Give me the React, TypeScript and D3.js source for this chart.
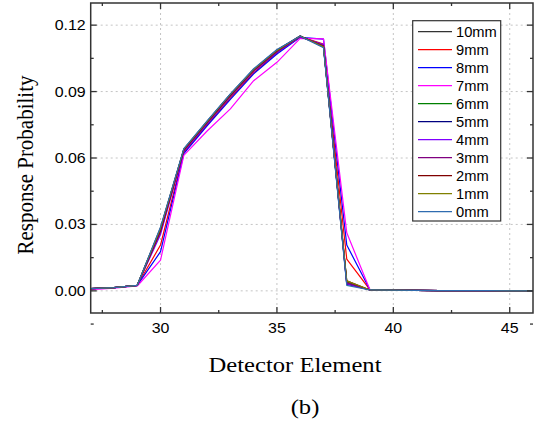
import React from 'react';
import * as d3 from 'd3';

const detectorElements = [27, 28, 29, 30, 31, 32, 33, 34, 35, 36, 37, 38, 39, 40, 41, 42, 43, 44, 45, 46];

const seriesNames = ['10mm', '9mm', '8mm', '7mm', '6mm', '5mm', '4mm', '3mm', '2mm', '1mm', '0mm'];
const seriesColors = ['#333333', '#ff0000', '#0000ff', '#ff00ff', '#008000', '#000080', '#8000ff', '#800080', '#800000', '#808000', '#2f6cb0'];

const tail = [0.0004, 0.0003, 0.0002, 0.0001, 0.0001, 0.0001, 0.0000, 0.0000];
const s10 = [0.0010, 0.0015, 0.0025, 0.0285, 0.0638, 0.0762, 0.0885, 0.0998, 0.1085, 0.1150, 0.1105, 0.0035, ...tail];
const s9 = [0.0010, 0.0015, 0.0025, 0.0207, 0.0625, 0.0750, 0.0870, 0.0985, 0.1075, 0.1148, 0.1115, 0.0143, ...tail];
const s8 = [0.0010, 0.0015, 0.0025, 0.0177, 0.0620, 0.0745, 0.0865, 0.0980, 0.1070, 0.1145, 0.1137, 0.0207, ...tail];
const s7 = [0.0005, 0.0012, 0.0022, 0.0139, 0.0612, 0.0722, 0.0822, 0.0949, 0.1032, 0.1140, 0.1138, 0.0262, ...tail];
const s6 = [0.0010, 0.0015, 0.0025, 0.0270, 0.0635, 0.0760, 0.0880, 0.0995, 0.1080, 0.1148, 0.1110, 0.0040, ...tail];
const s5 = [0.0010, 0.0015, 0.0025, 0.0280, 0.0640, 0.0765, 0.0888, 0.1000, 0.1088, 0.1152, 0.1100, 0.0030, ...tail];
const s4 = [0.0010, 0.0015, 0.0025, 0.0255, 0.0630, 0.0755, 0.0878, 0.0992, 0.1078, 0.1146, 0.1112, 0.0032, ...tail];
const s3 = [0.0010, 0.0015, 0.0025, 0.0265, 0.0633, 0.0758, 0.0880, 0.0994, 0.1080, 0.1148, 0.1108, 0.0036, ...tail];
const s2 = [0.0010, 0.0015, 0.0025, 0.0275, 0.0637, 0.0762, 0.0884, 0.0997, 0.1084, 0.1150, 0.1104, 0.0045, ...tail];
const s1 = [0.0010, 0.0015, 0.0025, 0.0282, 0.0640, 0.0764, 0.0887, 0.0999, 0.1086, 0.1151, 0.1102, 0.0045, ...tail];
const s0 = [0.0010, 0.0015, 0.0025, 0.0288, 0.0642, 0.0768, 0.0890, 0.1003, 0.1090, 0.1150, 0.1098, 0.0025, ...tail];
const seriesValues = [s10, s9, s8, s7, s6, s5, s4, s3, s2, s1, s0];

const xTicks = [30, 35, 40, 45];
const xTickLabels = ['30', '35', '40', '45'];
const xMinor = [27.5, 32.5, 37.5, 42.5];
const yTicks = [0, 0.03, 0.06, 0.09, 0.12];
const yMinor = [-0.015, 0.015, 0.045, 0.075, 0.105];

const W = 540, H = 430;
const L = 90.7, R = 533, T = 3, B = 313;
const SX = 1.14; // the source figure is slightly stretched horizontally
const SANS = 'Liberation Sans, Arial, sans-serif';
const SERIF = 'Liberation Serif, Times New Roman, serif';

export default function App() {
  const x = d3.scaleLinear().domain([27, 46]).range([L, R]);
  const y = d3.scaleLinear().domain([-0.01, 0.13]).range([B, T]);
  const line = d3.line<number>().x((_, i) => x(detectorElements[i])).y(d => y(d));

  return (
    <svg width={W} height={H} style={{ position: 'absolute', left: 0, top: 0, background: '#fff' }}>
      <defs>
        <clipPath id="plot"><rect x={L} y={T} width={R - L} height={B - T} /></clipPath>
      </defs>
      {/* grid */}
      {xTicks.map(t => (
        <line key={'gx' + t} x1={x(t)} x2={x(t)} y1={T} y2={B} stroke="#c4c4c4" strokeWidth={1} strokeDasharray="2,3" />
      ))}
      {yTicks.map(t => (
        <line key={'gy' + t} x1={L} x2={R} y1={y(t)} y2={y(t)} stroke="#c4c4c4" strokeWidth={1} strokeDasharray="2,3" />
      ))}

      {/* series */}
      <g clipPath="url(#plot)">
        {seriesValues.map((vals, i) => (
          <path key={seriesNames[i]} d={line(vals) || ''} fill="none" stroke={seriesColors[i]} strokeWidth={1.2} strokeLinejoin="round" />
        ))}
      </g>

      {/* frame */}
      <rect x={L} y={T} width={R - L} height={B - T} fill="none" stroke="#333" strokeWidth={1.5} />

      {/* x ticks */}
      {xTicks.map(t => (
        <g key={'tx' + t}>
          <line x1={x(t)} x2={x(t)} y1={B} y2={B - 6} stroke="#333" strokeWidth={1.3} />
          <line x1={x(t)} x2={x(t)} y1={T} y2={T + 6} stroke="#333" strokeWidth={1.3} />
        </g>
      ))}
      <g fontFamily={SANS} fontSize={14} fill="#000">
        {xTickLabels.map((lab, i) => (
          <text key={'xl' + i} transform={`translate(${x(xTicks[i])},${B + 20}) scale(${SX},1)`} textAnchor="middle">{lab}</text>
        ))}
      </g>
      {xMinor.map(t => (
        <g key={'mx' + t}>
          <line x1={x(t)} x2={x(t)} y1={B} y2={B - 3} stroke="#333" strokeWidth={1.3} />
          <line x1={x(t)} x2={x(t)} y1={T} y2={T + 3} stroke="#333" strokeWidth={1.3} />
        </g>
      ))}
      {/* y ticks */}
      {yTicks.map(t => (
        <g key={'ty' + t}>
          <line x1={L} x2={L + 6} y1={y(t)} y2={y(t)} stroke="#333" strokeWidth={1.3} />
          <line x1={R} x2={R - 6} y1={y(t)} y2={y(t)} stroke="#333" strokeWidth={1.3} />
          <text transform={`translate(${L - 5},${y(t)}) scale(${SX},1)`} dy="0.36em" textAnchor="end" fontFamily={SANS} fontSize={14} fill="#000">{t.toFixed(2)}</text>
        </g>
      ))}
      {yMinor.map(t => (
        <g key={'my' + t}>
          <line x1={L} x2={L + 3} y1={y(t)} y2={y(t)} stroke="#333" strokeWidth={1.3} />
          <line x1={R} x2={R - 3} y1={y(t)} y2={y(t)} stroke="#333" strokeWidth={1.3} />
        </g>
      ))}

      {/* legend */}
      <rect x={412.7} y={20.7} width={88} height={200.3} fill="#fff" stroke="#333" strokeWidth={1.2} />
      {seriesNames.map((n, i) => (
        <g key={'lg' + n} transform={`translate(0,${31.7 + i * 18})`}>
          <line x1={418} x2={452} y1={0} y2={0} stroke={seriesColors[i]} strokeWidth={1.2} />
          <text transform={`translate(456,0) scale(1.05,1)`} dy="0.36em" fontFamily={SANS} fontSize={14} fill="#000">{n}</text>
        </g>
      ))}

      {/* titles */}
      <text transform={`translate(295,372) scale(1.12,1)`} textAnchor="middle" fontFamily={SERIF} fontSize={22} fill="#000">Detector Element</text>
      <text transform={`translate(33,165) scale(1.12,1) rotate(-90)`} textAnchor="middle" fontFamily={SERIF} fontSize={21} fill="#000">Response Probability</text>
      <text transform={`translate(305,414) scale(1.12,1)`} textAnchor="middle" fontFamily={SERIF} fontSize={22} fill="#000">(b)</text>
    </svg>
  );
}
